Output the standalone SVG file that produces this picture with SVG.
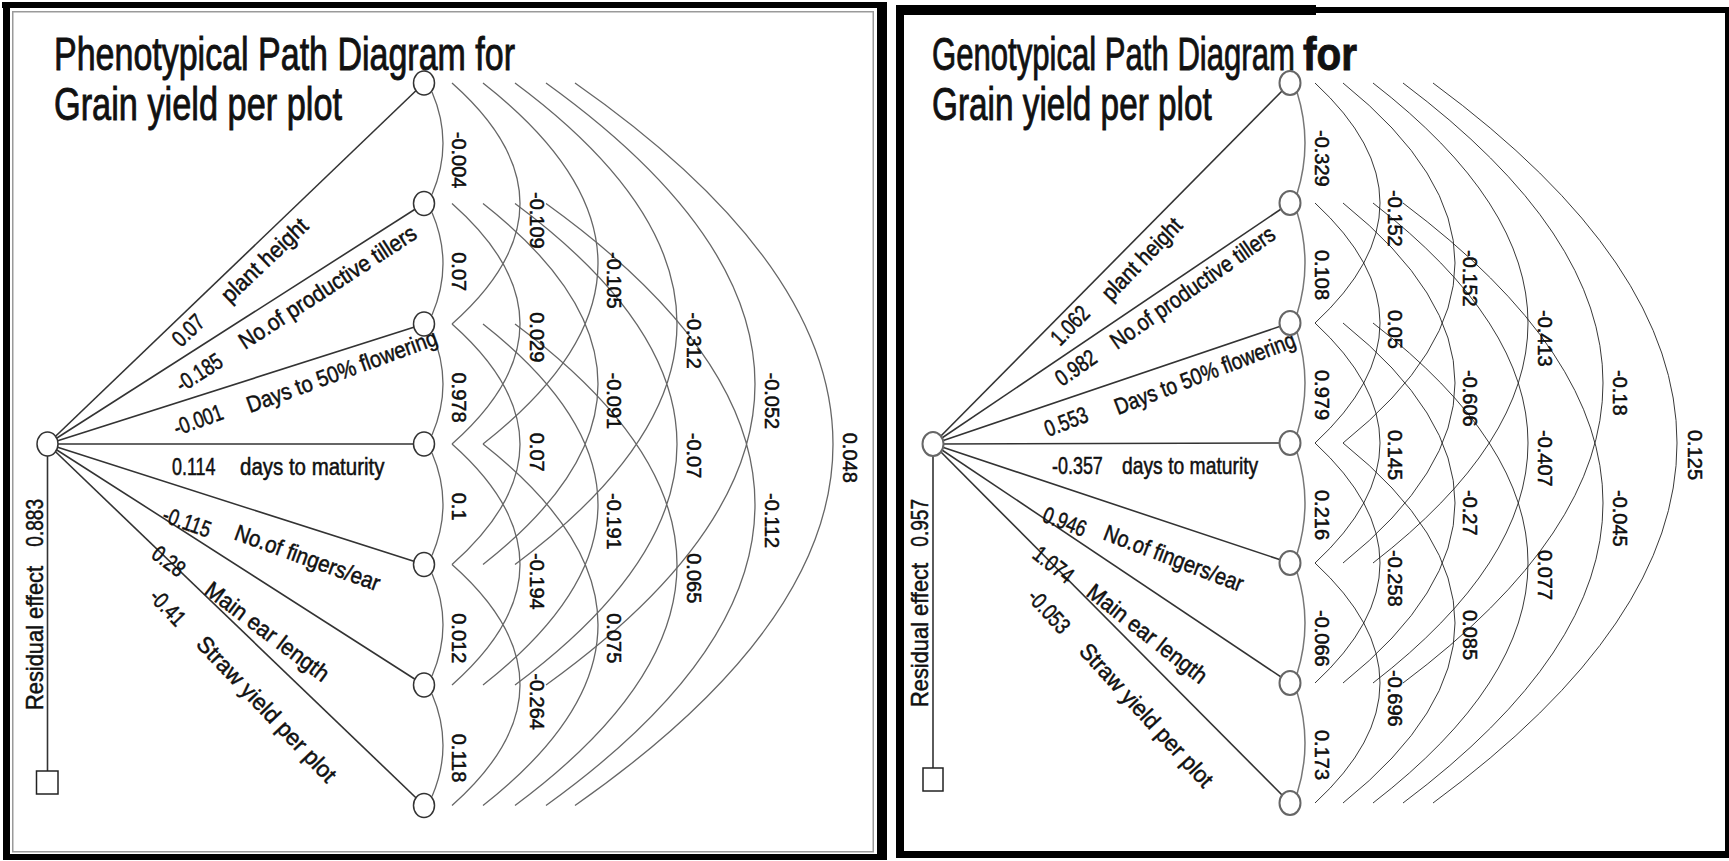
<svg xmlns="http://www.w3.org/2000/svg" width="1729" height="861" viewBox="0 0 1729 861">
<defs>
<style>
.t{font-family:"Liberation Sans",Arial,sans-serif;fill:#111}
.title{font-size:46px;stroke:#111;stroke-width:0.9}
.pl{font-size:23px;stroke:#111;stroke-width:0.5}
.cl{font-size:20px;stroke:#000;stroke-width:0.45}
.res{font-size:23px}
.lnL{stroke:#333;stroke-width:1.6;fill:none}
.arcL{stroke:#666;stroke-width:1.3;fill:none}
.arcR{stroke:#222;stroke-width:0.9;fill:none}
.adjR{stroke:#777;stroke-width:1.5;fill:none}
.nodeL{fill:#fff;stroke:#333;stroke-width:1.5}
.nodeR{fill:#fff;stroke:#666;stroke-width:2}
.fr{fill:#000}
.frg{fill:#9a9a9a}
</style>
</defs>
<rect x="0" y="0" width="1729" height="861" fill="#fff"/>
<g id="frames">
<rect class="frg" x="12" y="11" width="862" height="1.5"/>
<rect class="frg" x="12" y="11" width="1.5" height="841"/>
<rect class="frg" x="872.5" y="11" width="1.5" height="841"/>
<rect class="frg" x="12" y="851" width="862" height="1.5"/>
<rect class="fr" x="2" y="2" width="885" height="6"/>
<rect class="fr" x="3" y="2" width="7" height="858"/>
<rect class="fr" x="877" y="2" width="10" height="858"/>
<rect class="fr" x="3" y="854" width="884" height="6"/>
<rect class="fr" x="896" y="5" width="8" height="853"/>
<rect class="fr" x="896" y="5" width="420" height="10"/>
<rect class="fr" x="1316" y="7" width="413" height="6"/>
<rect class="fr" x="1725" y="7" width="4" height="851"/>
<rect class="fr" x="896" y="851" width="833" height="7"/>
</g>

<!-- ===== LEFT PANEL ===== -->
<g id="titleL" class="t title">
<text transform="translate(54,70) scale(0.739,1)">Phenotypical Path Diagram for</text>
<text transform="translate(54,120) scale(0.746,1)">Grain yield per plot</text>
</g>
<g id="connectorsL">
<line class="lnL" x1="47.5" y1="444" x2="424" y2="83"/>
<line class="lnL" x1="47.5" y1="444" x2="424" y2="203.5"/>
<line class="lnL" x1="47.5" y1="444" x2="424" y2="324"/>
<line class="lnL" x1="47.5" y1="444" x2="424" y2="444" stroke-width="2.2"/>
<line class="lnL" x1="47.5" y1="444" x2="424" y2="564.5"/>
<line class="lnL" x1="47.5" y1="444" x2="424" y2="685"/>
<line class="lnL" x1="47.5" y1="444" x2="424" y2="805.5"/>
<line class="lnL" x1="47.5" y1="456" x2="47.5" y2="771" stroke-width="1.2"/>
<path class="arcL" d="M432,92 Q454,143.25 432,194.5 M432,212.5 Q454,263.75 432,315 M432,333 Q454,384 432,435 M432,453 Q454,504.25 432,555.5 M432,573.5 Q454,624.75 432,676 M432,694 Q454,745.25 432,796.5"/>
<path class="arcL" d="M452,83 Q588,203.5 452,324 M452,203.5 Q588,323.75 452,444 M452,324 Q588,444.25 452,564.5 M452,444 Q588,564.5 452,685 M452,564.5 Q588,684.75 452,805.5"/>
<path class="arcL" d="M483,83 Q713,263.5 483,444 M483,203.5 Q713,384 483,564.5 M483,324 Q713,504.5 483,685 M483,444 Q713,624.75 483,805.5"/>
<path class="arcL" d="M515,83 Q839,323.75 515,564.5 M515,203.5 Q839,444.25 515,685 M515,324 Q839,564.75 515,805.5"/>
<path class="arcL" d="M546,83 Q964,384 546,685 M546,203.5 Q964,504.5 546,805.5"/>
<path class="arcL" d="M575,83 Q1091,444.25 575,805.5"/>
</g>
<g id="corrLabelsL" class="t cl">
<text transform="translate(452,131.75) rotate(90)">-0.004</text>
<text transform="translate(452,252.25) rotate(90)">0.07</text>
<text transform="translate(452,372.5) rotate(90)">0.978</text>
<text transform="translate(452,492.75) rotate(90)">0.1</text>
<text transform="translate(452,613.25) rotate(90)">0.012</text>
<text transform="translate(452,733.75) rotate(90)">0.118</text>
<text transform="translate(530,192) rotate(90)">-0.109</text>
<text transform="translate(530,312.25) rotate(90)">0.029</text>
<text transform="translate(530,432.75) rotate(90)">0.07</text>
<text transform="translate(530,553) rotate(90)">-0.194</text>
<text transform="translate(530,673.25) rotate(90)">-0.264</text>
<text transform="translate(607,252) rotate(90)">-0.105</text>
<text transform="translate(607,372.5) rotate(90)">-0.091</text>
<text transform="translate(607,493) rotate(90)">-0.191</text>
<text transform="translate(607,613.25) rotate(90)">0.075</text>
<text transform="translate(687,312.25) rotate(90)">-0.312</text>
<text transform="translate(687,432.75) rotate(90)">-0.07</text>
<text transform="translate(687,553.25) rotate(90)">0.065</text>
<text transform="translate(765,372.5) rotate(90)">-0.052</text>
<text transform="translate(765,493) rotate(90)">-0.112</text>
<text transform="translate(843,432.75) rotate(90)">0.048</text>
</g>
<g id="pathLabelsL" class="t pl">
<text transform="translate(181,348) rotate(-43.7) scale(0.78,1)">0.07</text>
<text transform="translate(230,304) rotate(-43.7) scale(0.93,1)">plant height</text>
<text transform="translate(182,393) rotate(-33) scale(0.78,1)">-0.185</text>
<text transform="translate(245,350) rotate(-33) scale(0.91,1)">No.of productive tillers</text>
<text transform="translate(177,436) rotate(-20) scale(0.78,1)">-0.001</text>
<text transform="translate(250,413) rotate(-20) scale(0.88,1)">Days to 50% flowering</text>
<text transform="translate(172,475) scale(0.78,1)">0.114</text>
<text transform="translate(240,475) scale(0.89,1)">days to maturity</text>
<text transform="translate(161,521) rotate(20) scale(0.78,1)">-0.115</text>
<text transform="translate(233,539) rotate(20) scale(0.9,1)">No.of fingers/ear</text>
<text transform="translate(150,557) rotate(37) scale(0.78,1)">0.28</text>
<text transform="translate(203,593) rotate(37) scale(0.94,1)">Main ear length</text>
<text transform="translate(148,598) rotate(46.5) scale(0.78,1)">-0.41</text>
<text transform="translate(195,645) rotate(46.5) scale(0.98,1)">Straw yield per plot</text>
<text class="res" transform="translate(43,710) rotate(-90) scale(0.95,1)">Residual effect</text>
<text class="res" transform="translate(43,546.7) rotate(-90) scale(0.83,1)">0.883</text>
</g>
<g id="sourceL"><ellipse class="nodeL" cx="47.5" cy="444" rx="10.5" ry="12"/></g>
<g id="residualL"><rect x="36.5" y="771" width="21.5" height="23" fill="#fff" stroke="#222" stroke-width="1.5"/></g>
<g id="nodeL1"><ellipse class="nodeL" cx="424" cy="83" rx="10.5" ry="12"/></g>
<g id="nodeL2"><ellipse class="nodeL" cx="424" cy="203.5" rx="10.5" ry="12"/></g>
<g id="nodeL3"><ellipse class="nodeL" cx="424" cy="324" rx="10.5" ry="12"/></g>
<g id="nodeL4"><ellipse class="nodeL" cx="424" cy="444" rx="10.5" ry="12"/></g>
<g id="nodeL5"><ellipse class="nodeL" cx="424" cy="564.5" rx="10.5" ry="12"/></g>
<g id="nodeL6"><ellipse class="nodeL" cx="424" cy="685" rx="10.5" ry="12"/></g>
<g id="nodeL7"><ellipse class="nodeL" cx="424" cy="805.5" rx="10.5" ry="12"/></g>

<!-- ===== RIGHT PANEL ===== -->
<g id="titleR" class="t title">
<text transform="translate(932,70) scale(0.676,1)">Genotypical Path Diagram</text>
<text transform="translate(1303,70) scale(0.88,1)" font-weight="bold">for</text>
<text transform="translate(932,120) scale(0.725,1)">Grain yield per plot</text>
</g>
<g id="connectorsR">
<line class="lnL" x1="933" y1="444" x2="1290" y2="83"/>
<line class="lnL" x1="933" y1="444" x2="1290" y2="203"/>
<line class="lnL" x1="933" y1="444" x2="1290" y2="323"/>
<line class="lnL" x1="933" y1="444" x2="1290" y2="443" stroke="#666" stroke-width="2.6"/>
<line class="lnL" x1="933" y1="444" x2="1290" y2="563"/>
<line class="lnL" x1="933" y1="444" x2="1290" y2="683"/>
<line class="lnL" x1="933" y1="444" x2="1290" y2="803"/>
<line class="lnL" x1="933" y1="456" x2="933" y2="768" stroke="#777" stroke-width="1.6"/>
<path class="adjR" d="M1297,92 Q1313,143 1297,194 M1297,212 Q1313,263 1297,314 M1297,332 Q1313,383 1297,434 M1297,452 Q1313,503 1297,554 M1297,572 Q1313,623 1297,674 M1297,692 Q1313,743 1297,794"/>
<path class="arcR" d="M1315,83 Q1445,203 1315,323 M1315,203 Q1445,323 1315,443 M1315,323 Q1445,443 1315,563 M1315,443 Q1445,563 1315,683 M1315,563 Q1445,683 1315,803"/>
<path class="arcR" d="M1343,83 Q1567,263 1343,443 M1343,203 Q1567,383 1343,563 M1343,323 Q1567,503 1343,683 M1343,443 Q1567,623 1343,803"/>
<path class="arcR" d="M1373,83 Q1683,323 1373,563 M1373,203 Q1683,443 1373,683 M1373,323 Q1683,563 1373,803"/>
<path class="arcR" d="M1403,83 Q1803,383 1403,683 M1403,203 Q1803,503 1403,803"/>
<path class="arcR" d="M1433,83 Q1921,443 1433,803"/>
</g>
<g id="corrLabelsR" class="t cl">
<text transform="translate(1315,130) rotate(90)">-0.329</text>
<text transform="translate(1315,250) rotate(90)">0.108</text>
<text transform="translate(1315,370) rotate(90)">0.979</text>
<text transform="translate(1315,490) rotate(90)">0.216</text>
<text transform="translate(1315,610) rotate(90)">-0.066</text>
<text transform="translate(1315,730) rotate(90)">0.173</text>
<text transform="translate(1388,190) rotate(90)">-0.152</text>
<text transform="translate(1388,310) rotate(90)">0.05</text>
<text transform="translate(1388,430) rotate(90)">0.145</text>
<text transform="translate(1388,550) rotate(90)">-0.258</text>
<text transform="translate(1388,670) rotate(90)">-0.696</text>
<text transform="translate(1463,250) rotate(90)">-0.152</text>
<text transform="translate(1463,370) rotate(90)">-0.606</text>
<text transform="translate(1463,490) rotate(90)">-0.27</text>
<text transform="translate(1463,610) rotate(90)">0.085</text>
<text transform="translate(1538,310) rotate(90)">-0.413</text>
<text transform="translate(1538,430) rotate(90)">-0.407</text>
<text transform="translate(1538,550) rotate(90)">0.077</text>
<text transform="translate(1613,370) rotate(90)">-0.18</text>
<text transform="translate(1613,490) rotate(90)">-0.045</text>
<text transform="translate(1688,430) rotate(90)">0.125</text>
</g>
<g id="pathLabelsR" class="t pl">
<text transform="translate(1060,347) rotate(-46) scale(0.78,1)">1.062</text>
<text transform="translate(1111,302) rotate(-46) scale(0.88,1)">plant height</text>
<text transform="translate(1062,387) rotate(-35) scale(0.78,1)">0.982</text>
<text transform="translate(1117,350) rotate(-35) scale(0.86,1)">No.of productive tillers</text>
<text transform="translate(1048,437) rotate(-21) scale(0.78,1)">0.553</text>
<text transform="translate(1118,415) rotate(-21) scale(0.84,1)">Days to 50% flowering</text>
<text transform="translate(1052,474) scale(0.78,1)">-0.357</text>
<text transform="translate(1122,474) scale(0.84,1)">days to maturity</text>
<text transform="translate(1041,521) rotate(21) scale(0.78,1)">0.946</text>
<text transform="translate(1102,539) rotate(21) scale(0.87,1)">No.of fingers/ear</text>
<text transform="translate(1031,557) rotate(38) scale(0.78,1)">1.074</text>
<text transform="translate(1085,595) rotate(38) scale(0.92,1)">Main ear length</text>
<text transform="translate(1026,598) rotate(47.5) scale(0.78,1)">-0.053</text>
<text transform="translate(1078,652) rotate(47.5) scale(0.95,1)">Straw yield per plot</text>
<text class="res" transform="translate(928,707) rotate(-90) scale(0.95,1)">Residual effect</text>
<text class="res" transform="translate(928,546.7) rotate(-90) scale(0.83,1)">0.957</text>
</g>
<g id="sourceR"><ellipse class="nodeR" cx="933" cy="444" rx="10.5" ry="12"/></g>
<g id="residualR"><rect x="923" y="768" width="20" height="23" fill="#fff" stroke="#222" stroke-width="1.5"/></g>
<g id="nodeR1"><ellipse class="nodeR" cx="1290" cy="83" rx="10.5" ry="12"/></g>
<g id="nodeR2"><ellipse class="nodeR" cx="1290" cy="203" rx="10.5" ry="12"/></g>
<g id="nodeR3"><ellipse class="nodeR" cx="1290" cy="323" rx="10.5" ry="12"/></g>
<g id="nodeR4"><ellipse class="nodeR" cx="1290" cy="443" rx="10.5" ry="12"/></g>
<g id="nodeR5"><ellipse class="nodeR" cx="1290" cy="563" rx="10.5" ry="12"/></g>
<g id="nodeR6"><ellipse class="nodeR" cx="1290" cy="683" rx="10.5" ry="12"/></g>
<g id="nodeR7"><ellipse class="nodeR" cx="1290" cy="803" rx="10.5" ry="12"/></g>
</svg>
